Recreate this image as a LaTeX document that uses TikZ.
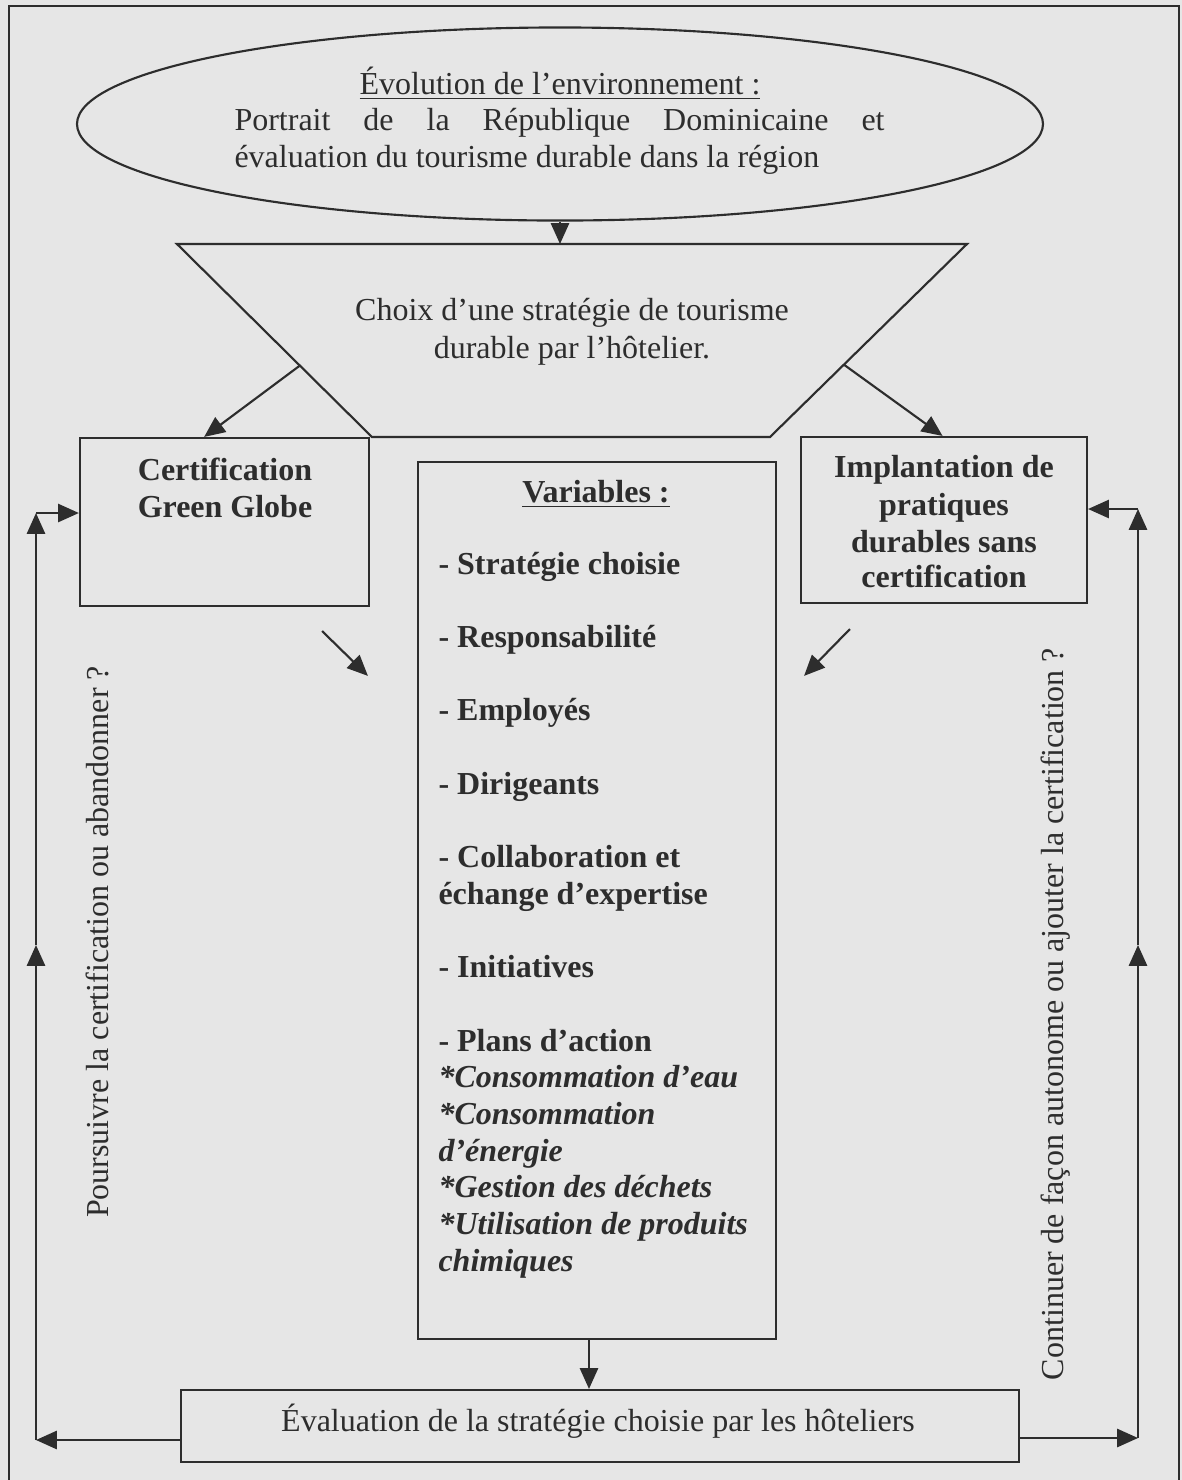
\documentclass[tikz,border=0pt]{standalone}
\usepackage{fontspec}
\setmainfont{Liberation Serif}
\usetikzlibrary{arrows.meta,calc,shapes.geometric}
\definecolor{bg}{RGB}{230,230,230}
\definecolor{ink}{RGB}{45,45,45}
\begin{document}
\begin{tikzpicture}[x=0.375pt,y=-0.375pt,
  lin/.style={draw=ink,line width=0.8pt},
  arr/.style={draw=ink,line width=0.8pt,-{Triangle[length=7.8pt,width=6.8pt]}},
  box/.style={draw=ink,line width=0.8pt,rectangle,inner sep=0pt},
  txt/.style={inner sep=0pt,text=ink,font=\fontsize{12}{13.76}\selectfont},
  btxt/.style={inner sep=0pt,text=ink,font=\fontsize{12}{13.76}\selectfont\bfseries}]
\useasboundingbox (0,0) rectangle (1182,1480);
\fill[bg] (0,0) rectangle (1182,1480);
% frame
\draw[lin] (9,1480) -- (9,6) -- (1179,6) -- (1179,1480);

% ellipse
\node[ellipse,draw=ink,line width=0.8pt,inner sep=0pt,minimum width=362.25pt,minimum height=72.4pt] (env) at (560,124) {};
\node[txt,anchor=base] (envtitle) at (560,94) {\underline{Évolution de l’environnement :}};
\node[txt,anchor=base west] (envl1) at (234,130) {\makebox[243.75pt][s]{Portrait de la République Dominicaine et}};
\node[txt,anchor=base west] (envl2) at (234,167) {évaluation du tourisme durable dans la région};

% trapezoid
\coordinate (tl) at (177,244);
\coordinate (tr) at (967,244);
\coordinate (br) at (770,437);
\coordinate (bl) at (372,437);
\draw[lin,line join=miter] (tl) -- (tr) -- (br) -- (bl) -- cycle;
\node[txt,anchor=base] (choix1) at (572,320) {Choix d’une stratégie de tourisme};
\node[txt,anchor=base] (choix2) at (572,358) {durable par l’hôtelier.};
\coordinate (ttop) at (560,244);
\draw[arr] (env.south) -- (ttop);

% side boxes
\node[box,minimum width=108.4pt,minimum height=63pt] (gg) at (224.5,522) {};
\node[btxt,anchor=base] (ggt1) at (225,480) {Certification};
\node[btxt,anchor=base] (ggt2) at (225,517) {Green Globe};

\node[box,minimum width=107.25pt,minimum height=62.25pt] (impl) at (944,520) {};
\node[btxt,anchor=base] (im1) at (944,477) {Implantation de};
\node[btxt,anchor=base] (im2) at (944,515) {pratiques};
\node[btxt,anchor=base] (im3) at (944,552) {durables sans};
\node[btxt,anchor=base] (im4) at (944,587) {certification};

% arrows from trapezoid
\coordinate (sl) at ($(tl)!0.63!(bl)$);
\coordinate (sr) at ($(tr)!0.625!(br)$);
\draw[arr] (sl) -- ($(gg.north west)!0.43!(gg.north east)$);
\draw[arr] (sr) -- ($(impl.north west)!0.495!(impl.north east)$);

% variables box
\node[box,minimum width=134.25pt,minimum height=328.9pt] (var) at (597,900.5) {};
\node[btxt,anchor=base] (vartitle) at (596,502) {\underline{Variables :}};
\node[btxt,anchor=base west] (vlist) at (438,574) {\parbox[t]{130pt}{\fontsize{12}{13.76}\selectfont\bfseries\raggedright
- Stratégie choisie\\[13.76pt]
- Responsabilité\\[13.76pt]
- Employés\\[13.76pt]
- Dirigeants\\[13.76pt]
- Collaboration et\\
échange d’expertise\\[13.76pt]
- Initiatives\\[13.76pt]
- Plans d’action\\
\textit{*Consommation d’eau}\\
\textit{*Consommation}\\
\textit{d’énergie}\\
\textit{*Gestion des déchets}\\
\textit{*Utilisation de produits}\\
\textit{chimiques}}};

% arrows into variables
\coordinate (dl0) at ($(gg.south east)+(-48,24)$);
\coordinate (dl1) at ($(var.north west)+(-49,215)$);
\draw[arr] (dl0) -- (dl1);
\coordinate (dr0) at ($(impl.south west)+(50,25)$);
\coordinate (dr1) at ($(var.north east)+(27,215)$);
\draw[arr] (dr0) -- (dr1);

% evaluation box
\node[box,minimum width=314.25pt,minimum height=27pt] (eval) at (600,1426) {};
\node[txt,anchor=base] (evalt) at (598,1431) {Évaluation de la stratégie choisie par les hôteliers};
\coordinate (vo) at ($(var.south)+(-8,0)$);
\draw[arr] (vo) -- (vo |- eval.north);

% feedback loops
\coordinate (BL) at (36,1440);
\coordinate (ML) at (36,945);
\coordinate (TL) at (36,513);
\draw[arr] (eval.west |- BL) -- (BL);
\draw[arr] (BL) -- (ML);
\draw[arr] (ML) -- (TL);
\draw[arr] (TL) -- (gg.west |- TL);

\coordinate (BR) at (1138,1438);
\coordinate (MR) at (1138,945);
\coordinate (TR) at (1138,509);
\draw[arr] (eval.east |- BR) -- (BR);
\draw[arr] (BR) -- (MR);
\draw[arr] (MR) -- (TR);
\draw[arr] (TR) -- (impl.east |- TR);

\node[txt,rotate=90] (leftq) at (97,942) {Poursuivre la certification ou abandonner ?};
\node[txt,rotate=90] (rightq) at (1056,1014) {Continuer de façon autonome ou ajouter la certification ?};
\end{tikzpicture}
\end{document}
